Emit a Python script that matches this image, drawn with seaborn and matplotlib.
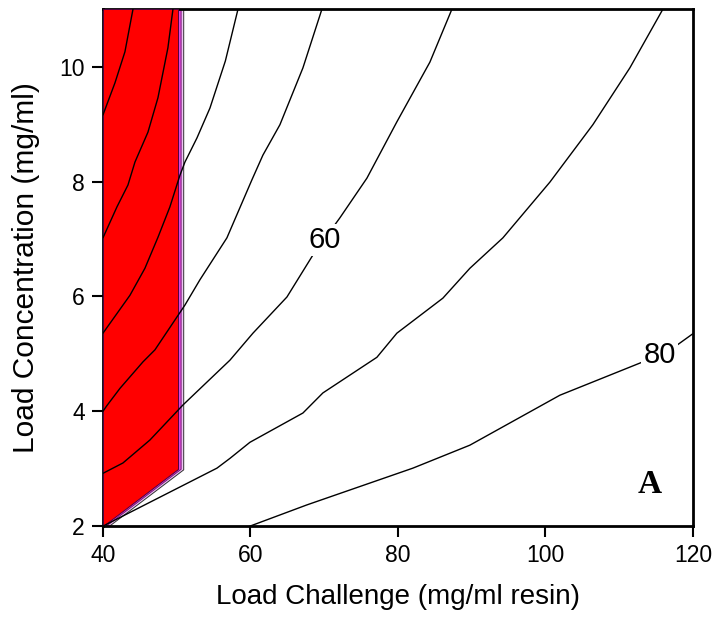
import matplotlib
matplotlib.use("Agg")
import matplotlib.pyplot as plt
import seaborn as sns

sns.set_theme(style="white")
plt.rcParams['font.family'] = ['Liberation Sans', 'DejaVu Sans']
plt.rcParams.update({"text.color": "black", "axes.labelcolor": "black",
                     "xtick.color": "black", "ytick.color": "black"})

# ---- data ----
x_ticks = [40, 60, 80, 100, 120]
y_ticks = [2, 4, 6, 8, 10]
x_label = "Load Challenge (mg/ml resin)"
y_label = "Load Concentration (mg/ml)"

# contour lines (x = load challenge, y = load concentration)
c20_x = [44.07, 42.98, 41.63, 40.0]
c20_y = [11.0, 10.26, 9.72, 9.16]

c30_x = [49.49, 48.81, 47.46, 46.10, 44.34, 43.39, 41.90, 40.0]
c30_y = [11.0, 10.33, 9.46, 8.86, 8.34, 7.94, 7.56, 7.02]

c40_x = [58.31, 56.60, 54.51, 52.75, 51.12, 50.44, 49.08, 47.46, 45.69, 43.66, 40.0]
c40_y = [11.0, 10.10, 9.28, 8.76, 8.34, 8.11, 7.56, 7.03, 6.49, 6.02, 5.36]

c50_x = [69.69, 67.12, 64.00, 61.69, 60.20, 56.81, 53.15, 51.12, 47.05, 45.42, 42.31, 40.54, 40.0]
c50_y = [11.0, 9.98, 8.99, 8.46, 8.03, 7.02, 6.29, 5.85, 5.07, 4.86, 4.40, 4.10, 4.0]

c60_x = [87.32, 84.34, 79.86, 75.80, 72.14, 68.47, 64.95, 60.34, 57.22, 50.85, 46.37, 42.71, 40.0]
c60_y = [11.0, 10.08, 9.04, 8.06, 7.37, 6.72, 5.99, 5.36, 4.89, 4.11, 3.50, 3.10, 2.92]

c70_x = [115.93, 111.46, 106.44, 100.61, 94.24, 89.76, 86.10, 79.86, 77.15, 69.83, 67.12, 59.93, 57.22, 55.46, 40.0]
c70_y = [11.0, 9.98, 8.99, 7.99, 7.02, 6.49, 5.97, 5.36, 4.94, 4.32, 3.97, 3.46, 3.18, 3.01, 2.0]

c80_x = [59.93, 67.66, 82.03, 89.76, 101.97, 113.22, 117.83, 120.0]
c80_y = [2.0, 2.37, 3.01, 3.41, 4.28, 4.86, 5.15, 5.35]

contour_labels = ["60", "80"]
label_x = [70.1, 115.5]
label_y = [6.98, 4.98]

# shaded region (red) and its thin border bands
red_x = [40.0, 40.0, 50.17, 50.17]
red_y = [2.0, 11.0, 11.0, 3.0]
band1_x = [40.0, 40.0, 50.60, 50.60, 40.45]
band1_y = [2.0, 11.0, 11.0, 2.99, 2.0]
band2_x = [40.0, 40.0, 50.95, 50.95, 40.90]
band2_y = [2.0, 11.0, 11.0, 2.98, 2.0]

panel_letter = "A"

# ---- figure ----
fig = plt.figure(figsize=(7.15, 6.19), dpi=100)
ax = fig.add_axes([0.144, 0.150, 0.825, 0.835])

ax.fill(band2_x, band2_y, facecolor="#eec6f4", edgecolor="#303030", linewidth=0.7, zorder=1)
ax.fill(band1_x, band1_y, facecolor="#dc48d8", edgecolor="#7a1a7a", linewidth=0.7, zorder=2)
ax.fill(red_x, red_y, facecolor="#ff0000", edgecolor="#500040", linewidth=0.7, zorder=3)

for cx, cy in [(c20_x, c20_y), (c30_x, c30_y), (c40_x, c40_y), (c50_x, c50_y),
               (c60_x, c60_y), (c70_x, c70_y), (c80_x, c80_y)]:
    sns.lineplot(x=cx, y=cy, sort=False, estimator=None, color="black",
                 linewidth=1.0, ax=ax, zorder=4)

for t, lx, ly in zip(contour_labels, label_x, label_y):
    ax.text(lx, ly, t, fontsize=21, ha="center", va="center", zorder=5, color="black",
            bbox=dict(facecolor="white", edgecolor="none", pad=1.5))

ax.text(114.2, 2.72, panel_letter, fontsize=24, fontweight="bold", color="black",
        family=["Liberation Serif", "DejaVu Serif"], ha="center", va="center", zorder=5)

ax.set_xlim(40, 120)
ax.set_ylim(2, 11)
ax.set_xticks(x_ticks)
ax.set_yticks(y_ticks)
ax.set_xticklabels([str(v) for v in x_ticks])
ax.set_yticklabels([str(v) for v in y_ticks])
ax.set_xlabel(x_label, fontsize=20, labelpad=12)
ax.set_ylabel(y_label, fontsize=21.5, labelpad=14)
ax.tick_params(axis="both", direction="out", length=8, width=1.5, labelsize=16.5,
               bottom=True, left=True, top=False, right=False, colors="black", pad=5)
for s in ax.spines.values():
    s.set_visible(True)
    s.set_color("black")
    s.set_linewidth(2)
ax.grid(False)
ax.set_facecolor("white")

fig.savefig("out.png", dpi=100)
